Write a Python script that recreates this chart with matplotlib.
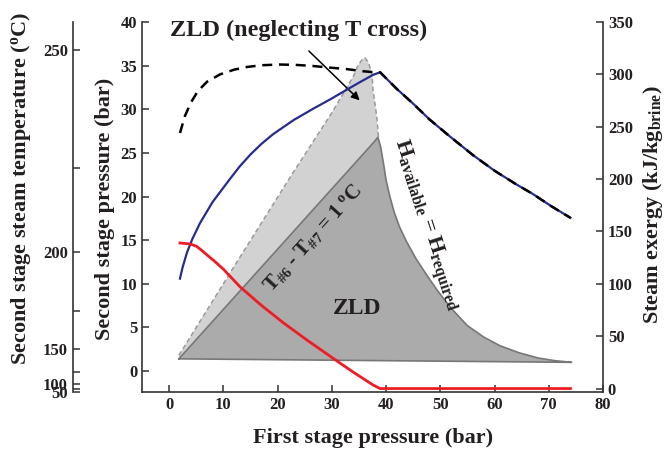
import matplotlib
matplotlib.use('Agg')
import matplotlib.pyplot as plt

plt.rcParams['font.family'] = ['Liberation Serif', 'DejaVu Serif']
plt.rcParams['font.weight'] = 'bold'
plt.rcParams['axes.labelweight'] = 'bold'
plt.rcParams['mathtext.fontset'] = 'custom'
plt.rcParams['mathtext.rm'] = 'Liberation Serif:bold'
plt.rcParams['mathtext.it'] = 'Liberation Serif:bold'
plt.rcParams['mathtext.bf'] = 'Liberation Serif:bold'

# steam exergy curves (kJ/kg brine) vs first stage pressure (bar)
p1_blue = [2.0, 2.5, 3.3, 4.3, 5.7, 8.0, 11.2, 13.0, 15.0, 17.0, 19.2, 23.0, 26.5, 30.0, 32.8, 35.5, 37.6, 38.9,
           42.0, 45.0, 48.0, 51.7, 56.0, 60.0, 64.0, 67.0, 70.5, 74.0]
ex_blue = [105, 116, 130, 143, 158, 178, 200, 212, 223.5, 233.5, 243, 256.5, 267, 277, 285.5, 293.5, 299.5, 302,
           286, 272, 257, 241, 223, 208, 195, 186, 174, 163]

p1_dash = [2.0, 2.9, 4.0, 5.3, 7.0, 9.4, 12.0, 14.3, 17.0, 20.4, 23.5, 26.5, 29.5, 32.8, 35.7, 37.9, 38.9,
           42.0, 45.0, 48.0, 51.7, 56.0, 60.0, 64.0, 67.0, 70.5, 74.0]
ex_dash = [244, 260, 273, 284, 293, 300, 304.5, 307, 308.7, 309.4, 309, 308, 306.5, 305, 303, 302, 302,
           286, 272, 257, 241, 223, 208, 195, 186, 174, 163]

p1_red = [2.0, 3.9, 5.0, 6.0, 7.0, 8.5, 10.0, 13.1, 17.0, 21.0, 25.5, 30.2, 34.0, 37.6, 38.9, 74.0]
ex_red = [139, 138, 136, 132, 127.5, 121, 114, 97, 79.5, 63, 46, 29, 15.5, 3.4, 0, 0]

# ZLD regions, second stage pressure (bar) vs first stage pressure (bar)
p1_light = [1.8, 12.0, 22.3, 30.0, 34.0, 34.8, 35.6, 36.1, 36.7, 37.4, 37.6, 38.3, 38.6]
p2_light = [1.8, 12.0, 22.2, 29.6, 33.8, 35.0, 35.7, 35.9, 35.4, 34.1, 32.2, 29.1, 26.8]

p1_dark = [1.8, 38.0, 38.5, 39.0, 39.5, 40.0, 40.7, 41.5, 42.5, 43.8, 45.5, 47.5, 49.5, 52.0,
           55.0, 58.0, 61.0, 64.5, 68.0, 71.0, 74.2]
p2_dark = [1.4, 26.4, 26.8, 25.7, 23.9, 21.9, 20.0, 18.2, 16.5, 14.8, 12.9, 11.0, 9.2, 7.2,
           5.2, 3.9, 2.9, 2.1, 1.5, 1.2, 1.0]

# second stage steam temperature ticks, placed on the pressure scale
temp_major = [250, 200, 150, 100, 50]
temp_major_pos = [36.8, 13.6, 2.5, -1.5, -2.35]
temp_minor_pos = [23.3, 6.9, -0.15, -2.05]

txt = '#231f20'
fig = plt.figure(figsize=(6.66, 4.49), dpi=100)
ax = fig.add_axes([142/666, 1-392/449, 461/666, 370/449])
ax.set_xlim(-5, 80)
ax.set_ylim(-2.4, 40)

ax.fill(p1_light + [1.8], p2_light + [1.4], color='#d2d2d2', lw=0, zorder=1)
ax.plot(p1_light, p2_light, color='#9a9a9a', lw=1.1, ls=(0, (3, 2)), zorder=2)
ax.fill(p1_dark, p2_dark, color='#ababab', lw=0, zorder=3)
ax.plot(p1_dark + [p1_dark[0]], p2_dark + [p2_dark[0]], color='#777777', lw=1.2, zorder=4)

ax.text(23.8, 39.0, 'ZLD (neglecting T cross)', fontsize=17.5, ha='center', va='center', color=txt, zorder=6)
ax.annotate('', xy=(35.5, 30.8), xytext=(25.4, 36.9),
            arrowprops=dict(arrowstyle='-|>', color='black', lw=1.1, mutation_scale=12), zorder=6)
ax.text(34.6, 7.2, 'ZLD', fontsize=17, ha='center', va='center', color=txt, zorder=6)
ax.text(26.5, 15.3, r'T$_{\#6}$ - T$_{\#7}$ = 1 $^{\rm o}$C', fontsize=15, rotation=48,
        ha='center', va='center', color=txt, zorder=6)
ax.text(47.4, 16.7, r'H$_{\rm available}$ = H$_{\rm required}$', fontsize=16, rotation=-72,
        ha='center', va='center', color=txt, zorder=6)

ax.set_xticks(range(0, 81, 10))
ax.set_yticks(range(0, 41, 5))
ax.spines['top'].set_visible(False)
ax.spines['right'].set_visible(False)
for s in ['left', 'bottom']:
    ax.spines[s].set_linewidth(1.2)
    ax.spines[s].set_color('#333333')
ax.tick_params(direction='in', length=5, width=1.1, labelsize=12, color='#333333', labelcolor=txt)
ax.set_xlabel('First stage pressure (bar)', fontsize=16, fontweight='bold', color=txt)
ax.xaxis.set_label_coords(0.502, -0.097)
ax.xaxis.label.set_va('top')
ax.set_ylabel('Second stage pressure (bar)', fontsize=16, fontweight='bold', color=txt)
ax.yaxis.set_label_coords(-0.058, 0.496)

# exergy axis
ax2 = ax.twinx()
ax2.set_ylim(-3.3, 350)
ax2.plot(p1_blue, ex_blue, color='#262c8e', lw=1.6)
ax2.plot(p1_red, ex_red, color='#ee1c25', lw=2.0)
ax2.plot(p1_dash, ex_dash, color='black', lw=1.8, ls=(0, (4, 2.7)))
ax2.set_yticks(range(0, 351, 50))
for s in ['left', 'top', 'bottom']:
    ax2.spines[s].set_visible(False)
ax2.spines['right'].set_linewidth(1.2)
ax2.spines['right'].set_color('#333333')
ax2.tick_params(direction='in', length=5, width=1.1, labelsize=12, color='#333333', labelcolor=txt)
ax2.set_ylabel(r'Steam exergy (kJ/kg$_{\rm brine}$)', fontsize=16, fontweight='bold', color=txt)
ax2.yaxis.set_label_coords(1.083, 0.505)

# saturation temperature axis on the far left
ax3 = ax.twinx()
ax3.set_ylim(ax.get_ylim())
for s in ['right', 'top', 'bottom']:
    ax3.spines[s].set_visible(False)
ax3.spines['left'].set_visible(True)
ax3.spines['left'].set_position(('axes', -0.15))
ax3.spines['left'].set_linewidth(1.2)
ax3.spines['left'].set_color('#333333')
ax3.yaxis.set_ticks_position('left')
ax3.yaxis.set_label_position('left')
ax3.set_yticks(temp_major_pos)
ax3.set_yticklabels([str(t) for t in temp_major])
ax3.set_yticks(temp_minor_pos, minor=True)
ax3.tick_params(which='both', direction='in', length=5, width=1.1, labelsize=12,
                color='#333333', labelcolor=txt)
ax3.set_ylabel(r'Second stage steam temperature ($^{\rm o}$C)', fontsize=16, fontweight='bold', color=txt)
ax3.yaxis.set_label_coords(-0.236, 0.55)

fig.savefig('out.png', dpi=100)
